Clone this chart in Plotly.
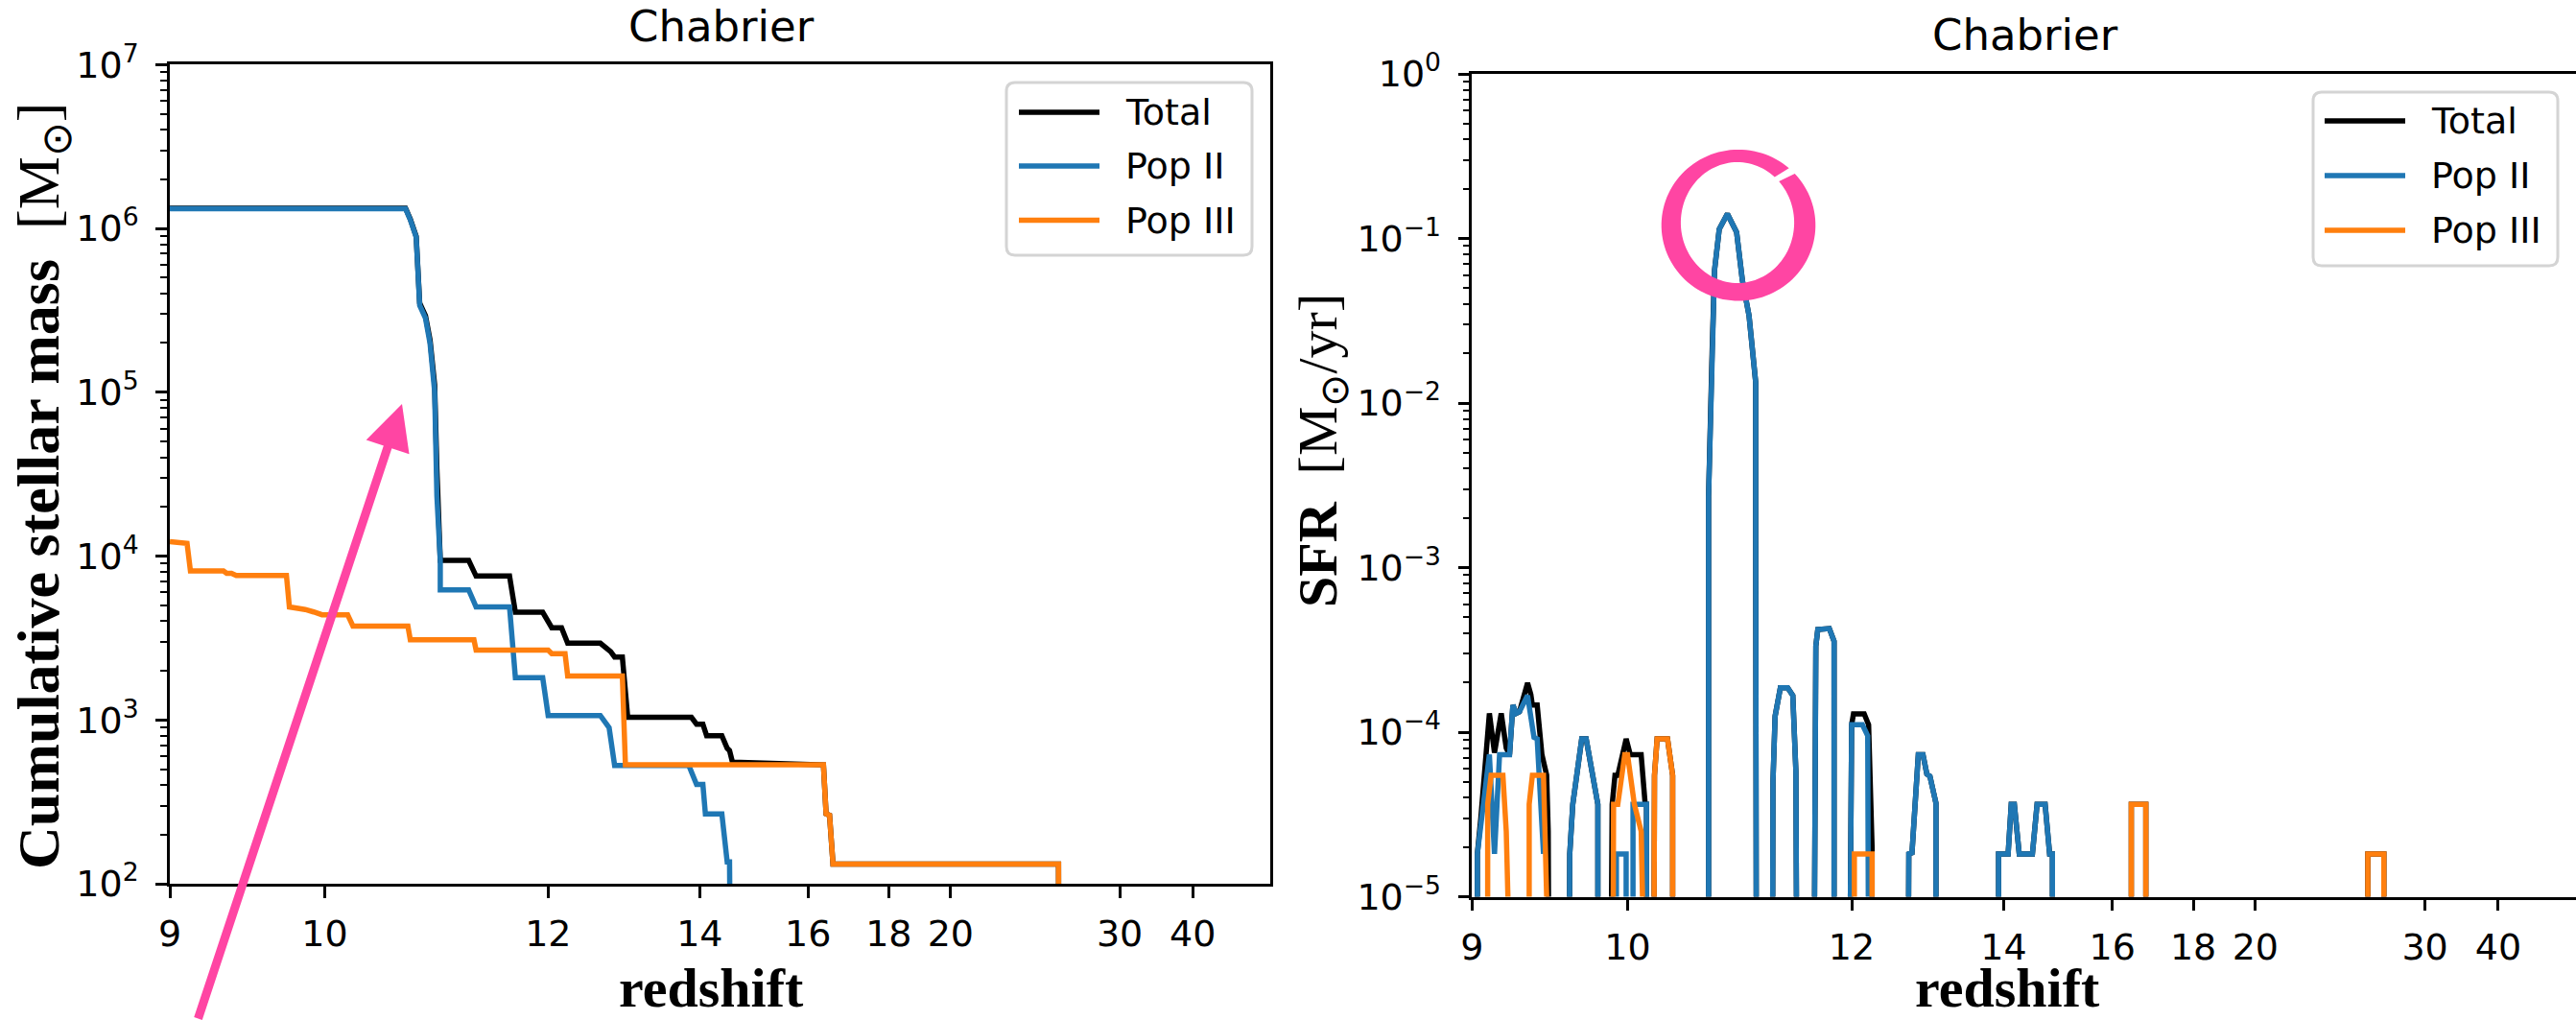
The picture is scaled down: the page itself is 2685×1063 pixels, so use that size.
import math
import plotly.graph_objects as go

W, H = 2685, 1063

# ---------------- data ----------------
xtick_z = [9, 10, 12, 14, 16, 18, 20, 30, 40]
xtick_labels = ["9", "10", "12", "14", "16", "18", "20", "30", "40"]

mass_ytick_vals = [1e2, 1e3, 1e4, 1e5, 1e6, 1e7]
mass_ytick_text = ["10<sup>2</sup>", "10<sup>3</sup>", "10<sup>4</sup>",
                   "10<sup>5</sup>", "10<sup>6</sup>", "10<sup>7</sup>"]
sfr_ytick_vals = [1e-5, 1e-4, 1e-3, 1e-2, 1e-1, 1e0]
sfr_ytick_text = ["10<sup>\u22125</sup>", "10<sup>\u22124</sup>", "10<sup>\u22123</sup>",
                  "10<sup>\u22122</sup>", "10<sup>\u22121</sup>", "10<sup>0</sup>"]

series_names = ["Total", "Pop II", "Pop III"]
series_colors = ["#000000", "#1f77b4", "#ff7f0e"]

# cumulative stellar mass [Msun] vs redshift
mass_z_total = [9.00, 10.63, 10.67, 10.72, 10.75, 10.80, 10.84, 10.88, 10.90, 10.93,
                11.19, 11.24, 11.26, 11.59, 11.65, 11.94, 12.00, 12.04, 12.15, 12.22,
                12.61, 12.68, 12.74, 12.79, 12.89, 12.96, 13.87, 13.95, 14.05, 14.11,
                14.36, 14.45, 14.49, 14.54, 16.34, 16.40, 16.48, 16.56, 25.20, 25.21]
mass_total = [1.33e6, 1.33e6, 1.14e6, 8.95e5, 3.5e5, 2.93e5, 2.08e5, 1.11e5, 3.4e4, 9400,
              9400, 7900, 7550, 7550, 4540, 4540, 4030, 3650, 3650, 2940,
              2940, 2740, 2610, 2420, 2420, 1038, 1038, 942, 942, 801,
              801, 671, 650, 553, 532, 267, 262, 132, 132, 50]

mass_z_pop2 = [9.00, 10.63, 10.67, 10.72, 10.75, 10.80, 10.84, 10.88, 10.90, 10.93,
               10.93, 11.19, 11.24, 11.26, 11.59, 11.65, 11.94, 12.00, 12.61, 12.68,
               12.72, 12.79, 13.83, 13.95, 14.05, 14.09, 14.36, 14.45, 14.49, 14.50]
mass_pop2 = [1.32e6, 1.32e6, 1.13e6, 8.85e5, 3.39e5, 2.83e5, 1.98e5, 1.01e5, 2.32e4, 9400,
             6220, 6220, 5250, 4890, 4890, 1810, 1810, 1063, 1063, 942,
             897, 527, 527, 404, 404, 267, 267, 136, 136, 50]

mass_z_pop3 = [9.00, 9.10, 9.12, 9.32, 9.34, 9.37, 9.40, 9.73, 9.75, 9.81,
               9.86, 9.92, 9.98, 10.17, 10.21, 10.65, 10.67, 11.24, 11.26, 12.00,
               12.04, 12.19, 12.22, 12.89, 12.93, 16.34, 16.40, 16.48, 16.56, 25.20, 25.21]
mass_pop3 = [12250, 11960, 8110, 8110, 7850, 7850, 7620, 7620, 4890, 4830,
             4720, 4560, 4385, 4385, 3740, 3740, 3080, 3080, 2670, 2670,
             2540, 2540, 1855, 1855, 532, 532, 267, 262, 132, 132, 50]

# star formation rate [Msun/yr] vs redshift (1e-7 = below the plotted range)
sfr_z_pop2 = [9.03, 9.03, 9.10, 9.13, 9.16, 9.22, 9.24, 9.26, 9.28, 9.33, 9.37, 9.39, 9.43, None,
              9.59, 9.60, 9.62, 9.68, 9.71, 9.79, 9.79,
              9.92, 9.92, 9.99, 9.99,
              10.04, 10.04, 10.14, 10.14,
              10.63, 10.63, 10.66, 10.68, 10.72, 10.79, 10.87, 10.92, 10.98, 11.04, 11.04, 11.05,
              11.19, 11.20, 11.22, 11.27, 11.34, 11.39, 11.42, 11.44,
              11.59, 11.62, 11.64, 11.76, 11.81, 11.81,
              11.96, 12.00, 12.12, 12.18, 12.20,
              12.65, 12.67, 12.71, 12.79, 12.85, 12.90, 12.94, 13.02, 13.02,
              13.92, 13.92, 14.07, 14.12, 14.17, 14.25, 14.47, 14.55, 14.69, 14.77, 14.82, 14.82]
sfr_pop2 = [1e-7, 1.82e-5, 7.3e-5, 1.82e-5, 7.3e-5, 7.3e-5, 1.46e-4, 1.30e-4, 1.33e-4, 1.67e-4, 9.3e-5, 9.1e-5, 1.82e-5, None,
            1e-7, 1.82e-5, 3.64e-5, 9.1e-5, 9.1e-5, 3.64e-5, 1e-7,
            1e-7, 1.82e-5, 1.82e-5, 1e-7,
            1e-7, 3.64e-5, 3.64e-5, 1e-7,
            1e-7, 2.7e-3, 0.021, 0.064, 0.114, 0.141, 0.109, 0.056, 0.034, 0.0134, 1.6e-3, 1e-7,
            1e-7, 5e-5, 1.25e-4, 1.86e-4, 1.86e-4, 1.67e-4, 5.8e-5, 1e-7,
            1e-7, 3.33e-4, 4.2e-4, 4.26e-4, 3.57e-4, 1e-7,
            1e-7, 1.11e-4, 1.11e-4, 9.5e-5, 1e-7,
            1e-7, 1.82e-5, 1.85e-5, 7.3e-5, 7.3e-5, 5.56e-5, 5.4e-5, 3.7e-5, 1e-7,
            1e-7, 1.82e-5, 1.82e-5, 3.64e-5, 3.64e-5, 1.82e-5, 1.82e-5, 3.64e-5, 3.64e-5, 1.82e-5, 1.82e-5, 1e-7]

sfr_z_pop3 = [9.09, 9.09, 9.11, 9.18, 9.20, 9.21, 9.21,
              9.34, 9.34, 9.36, 9.43, 9.45, 9.45,
              9.89, 9.90, 9.93, 9.98, 10.00, 10.05, 10.10, 10.11, 10.11,
              10.19, 10.20, 10.22, 10.30, 10.34, 10.34,
              12.03, 12.03, 12.23, 12.23,
              16.42, 16.42, 16.76, 16.76,
              25.47, 25.47, 26.57, 26.57]
sfr_pop3 = [1e-7, 3.64e-5, 5.46e-5, 5.46e-5, 2.5e-5, 1e-5, 1e-7,
            1e-7, 3.64e-5, 5.46e-5, 5.46e-5, 1e-5, 1e-7,
            1e-7, 3.64e-5, 3.64e-5, 7.3e-5, 7.3e-5, 3.64e-5, 2.5e-5, 1e-5, 1e-7,
            1e-7, 5.46e-5, 9.1e-5, 9.1e-5, 5.46e-5, 1e-7,
            1e-7, 1.82e-5, 1.82e-5, 1e-7,
            1e-7, 3.64e-5, 3.64e-5, 1e-7,
            1e-7, 1.82e-5, 1.82e-5, 1e-7]

sfr_z_total = [9.03, 9.03, 9.05, 9.09, 9.10, 9.13, 9.17, 9.20, 9.22, 9.24, 9.26, 9.28, 9.33, 9.35, 9.36, 9.39, 9.42, 9.45, 9.46, 9.47,
               9.59, 9.60, 9.62, 9.68, 9.71, 9.79, 9.79,
               9.87, 9.89, 9.91, 9.93, 9.99, 10.02, 10.10, 10.13, 10.14, 10.14,
               10.19, 10.20, 10.22, 10.30, 10.34, 10.34,
               10.63, 10.63, 10.66, 10.68, 10.72, 10.79, 10.87, 10.92, 10.98, 11.04, 11.04, 11.05,
               11.19, 11.20, 11.22, 11.27, 11.34, 11.39, 11.42, 11.44,
               11.59, 11.62, 11.64, 11.76, 11.81, 11.81,
               11.96, 12.00, 12.02, 12.14, 12.19, 12.23, 12.23,
               12.65, 12.67, 12.71, 12.79, 12.85, 12.90, 12.94, 13.02, 13.02,
               13.92, 13.92, 14.07, 14.12, 14.17, 14.25, 14.47, 14.55, 14.69, 14.77, 14.82, 14.82,
               16.42, 16.42, 16.76, 16.76,
               25.47, 25.47, 26.57, 26.57]
sfr_total = [1e-7, 1.82e-5, 3e-5, 1e-4, 1.3e-4, 7.5e-5, 1.3e-4, 8e-5, 7.3e-5, 1.46e-4, 1.3e-4, 1.33e-4, 1.99e-4, 1.7e-4, 1.46e-4, 1.46e-4, 7.3e-5, 5.5e-5, 2.5e-5, 1e-7,
             1e-7, 1.82e-5, 3.64e-5, 9.1e-5, 9.1e-5, 3.64e-5, 1e-7,
             1e-7, 3.64e-5, 5.46e-5, 5.46e-5, 9.1e-5, 7.3e-5, 7.3e-5, 3.64e-5, 3.64e-5, 1e-7,
             1e-7, 5.46e-5, 9.1e-5, 9.1e-5, 5.46e-5, 1e-7,
             1e-7, 2.7e-3, 0.021, 0.064, 0.114, 0.141, 0.109, 0.056, 0.034, 0.0134, 1.6e-3, 1e-7,
             1e-7, 5e-5, 1.25e-4, 1.86e-4, 1.86e-4, 1.67e-4, 5.8e-5, 1e-7,
             1e-7, 3.33e-4, 4.2e-4, 4.26e-4, 3.57e-4, 1e-7,
             1e-7, 1.11e-4, 1.29e-4, 1.29e-4, 1.11e-4, 2e-5, 1e-7,
             1e-7, 1.82e-5, 1.85e-5, 7.3e-5, 7.3e-5, 5.56e-5, 5.4e-5, 3.7e-5, 1e-7,
             1e-7, 1.82e-5, 1.82e-5, 3.64e-5, 3.64e-5, 1.82e-5, 1.82e-5, 3.64e-5, 3.64e-5, 1.82e-5, 1.82e-5, 1e-7,
             1e-7, 3.64e-5, 3.64e-5, 1e-7,
             1e-7, 1.82e-5, 1.82e-5, 1e-7]


# ---------------- scale: x axis is linear in cosmic time, t ~ (1+z)^-1.5 ----------------
def zx(z):
    return None if z is None else (1.0 + z) ** -1.5


def tx(zs):
    return [zx(z) for z in zs]


X_RANGE = [zx(9), 0.0017]


def px(x):
    return x / W


def py(y):
    return 1 - y / H


fig = go.Figure()

panels = [
    ("x", "y", [(mass_z_total, mass_total), (mass_z_pop2, mass_pop2), (mass_z_pop3, mass_pop3)]),
    ("x2", "y2", [(sfr_z_total, sfr_total), (sfr_z_pop2, sfr_pop2), (sfr_z_pop3, sfr_pop3)]),
]
for xa, ya, series in panels:
    for (zs, vs), name, col in zip(series, series_names, series_colors):
        fig.add_trace(go.Scatter(x=tx(zs), y=vs, mode="lines", name=name,
                                 line=dict(color=col, width=5.5),
                                 xaxis=xa, yaxis=ya, showlegend=False,
                                 connectgaps=False, hoverinfo="skip"))

tickfont = dict(family="DejaVu Sans", size=38, color="black")


def xaxis_cfg(domain, anchor):
    return dict(domain=domain, anchor=anchor, range=X_RANGE, automargin=False,
                tickmode="array", tickvals=tx(xtick_z), ticktext=xtick_labels,
                ticks="outside", ticklen=12, tickwidth=2.6, tickcolor="black",
                showline=True, linecolor="black", linewidth=2.6, mirror=True,
                showgrid=False, zeroline=False, tickfont=tickfont,
                ticklabelstandoff=5)


def minor_vals(lo, hi):
    return [m * 10.0 ** e for e in range(lo, hi) for m in range(2, 10)]


def yaxis_cfg(domain, anchor, rng, vals, text, mirror):
    return dict(domain=domain, anchor=anchor, type="log", range=rng, automargin=False,
                tickmode="array", tickvals=vals, ticktext=text,
                ticks="outside", ticklen=12, tickwidth=2.6, tickcolor="black",
                minor=dict(tickmode="array", tickvals=minor_vals(rng[0], rng[1]),
                           ticks="outside", ticklen=7, tickwidth=2, tickcolor="black",
                           showgrid=False),
                showline=True, linecolor="black", linewidth=2.6, mirror=mirror,
                showgrid=False, zeroline=False, tickfont=tickfont,
                ticklabelstandoff=10)


L_X = [px(177), px(1324)]
L_Y = [py(921), py(67.3)]
R_X = [px(1534.4), 1.0]
R_Y = [py(934.5), py(77)]

fig.update_layout(
    template="none",
    width=W, height=H,
    margin=dict(l=0, r=0, t=0, b=0, pad=0, autoexpand=False),
    paper_bgcolor="white", plot_bgcolor="white",
    font=dict(family="DejaVu Sans", color="black"),
    showlegend=False,
    xaxis=xaxis_cfg(L_X, "y"),
    yaxis=yaxis_cfg(L_Y, "x", [2, 7], mass_ytick_vals, mass_ytick_text, True),
    xaxis2=xaxis_cfg(R_X, "y2"),
    yaxis2=yaxis_cfg(R_Y, "x2", [-5, 0], sfr_ytick_vals, sfr_ytick_text, False),
)

annotations = []
shapes = []

serif = "Liberation Serif"
sans = "DejaVu Sans"
title_size = 45

# panel titles
for cx, cy in [(752, 27), (2111, 37)]:
    annotations.append(dict(text="Chabrier", x=px(cx), y=py(cy), xref="paper", yref="paper",
                            xanchor="center", yanchor="middle", showarrow=False,
                            font=dict(family=sans, size=title_size, color="black")))

# axis titles
for cx in [741, 2092]:
    annotations.append(dict(text="<b>redshift</b>", x=px(cx), y=py(1029), xref="paper", yref="paper",
                            xanchor="center", yanchor="middle", showarrow=False, borderpad=0,
                            font=dict(family=serif, size=58, color="black")))
annotations.append(dict(text="<b>Cumulative stellar mass</b>\u00a0\u00a0[M<sub>\u2299</sub>]",
                        x=px(45), y=py(507), xref="paper", yref="paper", textangle=-90,
                        xanchor="center", yanchor="middle", showarrow=False,
                        font=dict(family=serif, size=62, color="black")))
annotations.append(dict(text="<b>SFR</b>\u00a0\u00a0[M<sub>\u2299</sub>/yr]",
                        x=px(1377), y=py(470), xref="paper", yref="paper", textangle=-90,
                        xanchor="center", yanchor="middle", showarrow=False,
                        font=dict(family=serif, size=58, color="black")))


# legends (drawn as boxes with line samples and text)
def rounded_rect(x0, y0, x1, y1, r):
    pts = [("M", x0 + r, y0), ("L", x1 - r, y0), ("Q", x1, y0, x1, y0 + r),
           ("L", x1, y1 - r), ("Q", x1, y1, x1 - r, y1), ("L", x0 + r, y1),
           ("Q", x0, y1, x0, y1 - r), ("L", x0, y0 + r), ("Q", x0, y0, x0 + r, y0)]
    out = []
    for p in pts:
        if p[0] == "Q":
            out.append("Q%.6f,%.6f %.6f,%.6f" % (px(p[1]), py(p[2]), px(p[3]), py(p[4])))
        else:
            out.append("%s%.6f,%.6f" % (p[0], px(p[1]), py(p[2])))
    return " ".join(out) + " Z"


legend_boxes = [
    dict(box=(1049, 86, 1305, 266), line_x=(1062, 1146), text_x=1171, rows=(117, 173, 229.5)),
    dict(box=(2411, 96, 2666, 277), line_x=(2423, 2507), text_x=2532, rows=(126, 183, 240)),
]
for lb in legend_boxes:
    x0, y0, x1, y1 = lb["box"]
    shapes.append(dict(type="path", path=rounded_rect(x0, y0, x1, y1, 9), xref="paper", yref="paper",
                       line=dict(color="#d4d4d4", width=3), fillcolor="rgba(255,255,255,0.8)",
                       layer="above"))
    for ry, name, col in zip(lb["rows"], series_names, series_colors):
        shapes.append(dict(type="line", xref="paper", yref="paper",
                           x0=px(lb["line_x"][0]), x1=px(lb["line_x"][1]), y0=py(ry), y1=py(ry),
                           line=dict(color=col, width=5.5), layer="above"))
        annotations.append(dict(text=name, x=px(lb["text_x"]), y=py(ry), xref="paper", yref="paper",
                                xanchor="left", yanchor="middle", showarrow=False,
                                font=dict(family=sans, size=38, color="black")))

# pink highlight: arrow on left panel, hand-drawn ring on right panel
PINK = "#ff45a3"
annotations.append(dict(text="", x=px(419), y=py(421), xref="paper", yref="paper",
                        showarrow=True, ax=-213, ay=710, arrowhead=2, arrowsize=1.05,
                        arrowwidth=9, arrowcolor=PINK, standoff=0))

ocx, ocy, orx, ory = 1812, 234.7, 80.3, 78.8
icx, icy, irx, iry = 1811, 232.0, 59.1, 63.0
angles = [49 + i * (354 / 120) for i in range(121)]
outer = [(ocx + orx * math.cos(math.radians(a)), ocy - ory * math.sin(math.radians(a))) for a in angles]
inner = [(icx + irx * math.cos(math.radians(a)), icy - iry * math.sin(math.radians(a))) for a in reversed(angles)]
ring = outer + inner
ring_path = "M" + " L".join("%.6f,%.6f" % (px(x), py(y)) for x, y in ring) + " Z"
shapes.append(dict(type="path", path=ring_path, xref="paper", yref="paper",
                   fillcolor=PINK, line=dict(width=0), layer="above"))

fig.update_layout(annotations=annotations, shapes=shapes)

fig.write_html("out.html", config={"displayModeBar": False})
